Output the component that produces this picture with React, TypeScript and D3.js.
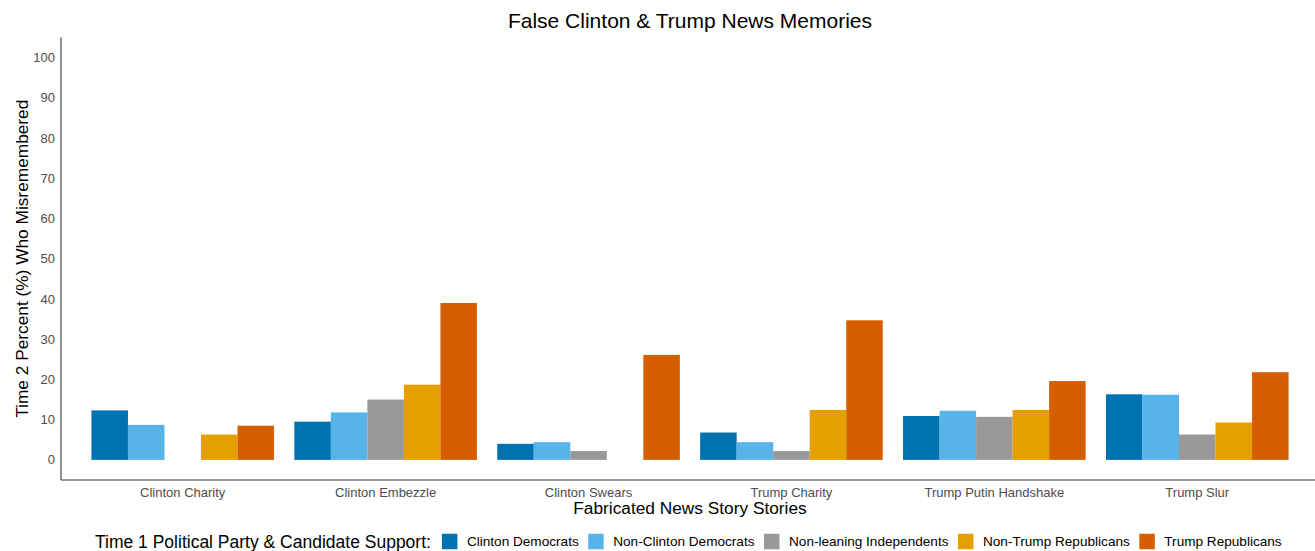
import React, { useEffect, useRef } from "react";
import * as d3 from "d3";

const categories = [
  "Clinton Charity",
  "Clinton Embezzle",
  "Clinton Swears",
  "Trump Charity",
  "Trump Putin Handshake",
  "Trump Slur",
];
const seriesNames = [
  "Clinton Democrats",
  "Non-Clinton Democrats",
  "Non-leaning Independents",
  "Non-Trump Republicans",
  "Trump Republicans",
];
const seriesColors = ["#0072B2", "#56B4E9", "#999999", "#E69F00", "#D55E00"];
const clintonDemocrats = [12.3, 9.5, 4.0, 6.8, 10.9, 16.3];
const nonClintonDemocrats = [8.7, 11.8, 4.4, 4.4, 12.2, 16.2];
const nonLeaningIndependents = [0, 15.0, 2.2, 2.2, 10.7, 6.3];
const nonTrumpRepublicans = [6.3, 18.7, 0, 12.4, 12.4, 9.3];
const trumpRepublicans = [8.5, 39.0, 26.1, 34.7, 19.6, 21.8];
const yTicks = [0, 10, 20, 30, 40, 50, 60, 70, 80, 90, 100];

const seriesValues = [
  clintonDemocrats,
  nonClintonDemocrats,
  nonLeaningIndependents,
  nonTrumpRepublicans,
  trumpRepublicans,
];

const W = 1315;
const H = 551;
const FONT = "'Liberation Sans', Arial, sans-serif";

export default function App() {
  const ref = useRef<SVGSVGElement>(null);

  useEffect(() => {
    const svg = d3.select(ref.current);
    svg.selectAll("*").remove();

    const panel = { left: 61, right: 1319, top: 37.5, bottom: 480 };

    const x = d3
      .scaleBand<string>()
      .domain(categories)
      .range([panel.left, panel.right])
      .paddingInner(0.1)
      .paddingOuter(0.15);
    const xs = d3
      .scaleBand<string>()
      .domain(seriesNames)
      .range([0, x.bandwidth()])
      .padding(0);
    const y = d3.scaleLinear().domain([-5, 105]).range([panel.bottom, panel.top]);

    // bars
    const g = svg.append("g");
    categories.forEach((cat, ci) => {
      seriesNames.forEach((s, si) => {
        const v = seriesValues[si][ci];
        if (!v) return;
        g.append("rect")
          .attr("x", (x(cat) as number) + (xs(s) as number))
          .attr("y", y(v))
          .attr("width", xs.bandwidth())
          .attr("height", y(0) - y(v))
          .attr("fill", seriesColors[si]);
      });
    });

    // axes lines
    svg
      .append("line")
      .attr("x1", panel.left)
      .attr("x2", panel.left)
      .attr("y1", panel.top)
      .attr("y2", panel.bottom)
      .attr("stroke", "#333333")
      .attr("stroke-width", 1.1);
    svg
      .append("line")
      .attr("x1", panel.left)
      .attr("x2", W)
      .attr("y1", panel.bottom)
      .attr("y2", panel.bottom)
      .attr("stroke", "#333333")
      .attr("stroke-width", 1.1);

    // y tick labels
    svg
      .append("g")
      .selectAll("text")
      .data(yTicks)
      .join("text")
      .attr("x", 55)
      .attr("y", (d) => y(d))
      .attr("dy", "0.35em")
      .attr("text-anchor", "end")
      .attr("font-family", FONT)
      .attr("font-size", 13)
      .attr("fill", "#4D4D4D")
      .text((d) => String(d));

    // x tick labels
    svg
      .append("g")
      .selectAll("text")
      .data(categories)
      .join("text")
      .attr("x", (d) => (x(d) as number) + x.bandwidth() / 2)
      .attr("y", 496.5)
      .attr("text-anchor", "middle")
      .attr("font-family", FONT)
      .attr("font-size", 13)
      .attr("fill", "#4D4D4D")
      .text((d) => d);

    const cx = (panel.left + panel.right) / 2;
    // title
    svg
      .append("text")
      .attr("x", cx)
      .attr("y", 28)
      .attr("text-anchor", "middle")
      .attr("font-family", FONT)
      .attr("font-size", 21)
      .attr("fill", "#000")
      .text("False Clinton & Trump News Memories");

    // x title
    svg
      .append("text")
      .attr("x", cx)
      .attr("y", 513.5)
      .attr("text-anchor", "middle")
      .attr("font-family", FONT)
      .attr("font-size", 17.3)
      .attr("fill", "#000")
      .text("Fabricated News Story Stories");

    // y title
    svg
      .append("text")
      .attr("transform", `translate(27.5,${(panel.top + panel.bottom) / 2}) rotate(-90)`)
      .attr("text-anchor", "middle")
      .attr("font-family", FONT)
      .attr("font-size", 17.3)
      .attr("fill", "#000")
      .text("Time 2 Percent (%) Who Misremembered");

    // legend
    const ly = 541.5;
    const lg = svg.append("g");
    const title = lg
      .append("text")
      .attr("x", 95)
      .attr("y", ly)
      .attr("dy", "0.35em")
      .attr("font-family", FONT)
      .attr("font-size", 17.5)
      .attr("fill", "#000")
      .text("Time 1 Political Party & Candidate Support:");
    let cur = 95 + (title.node() as SVGTextElement).getComputedTextLength() + 11;
    const key = 15.5;
    seriesNames.forEach((s, i) => {
      lg.append("rect")
        .attr("x", cur)
        .attr("y", ly - key / 2)
        .attr("width", key)
        .attr("height", key)
        .attr("fill", seriesColors[i]);
      cur += key + 9.5;
      const t = lg
        .append("text")
        .attr("x", cur)
        .attr("y", ly)
        .attr("dy", "0.35em")
        .attr("font-family", FONT)
        .attr("font-size", 13.6)
        .attr("fill", "#000")
        .text(s);
      cur += (t.node() as SVGTextElement).getComputedTextLength() + 9.5;
    });
  }, []);

  return (
    <svg
      ref={ref}
      width={W}
      height={H}
      style={{ position: "absolute", left: 0, top: 0, background: "#fff" }}
    />
  );
}
